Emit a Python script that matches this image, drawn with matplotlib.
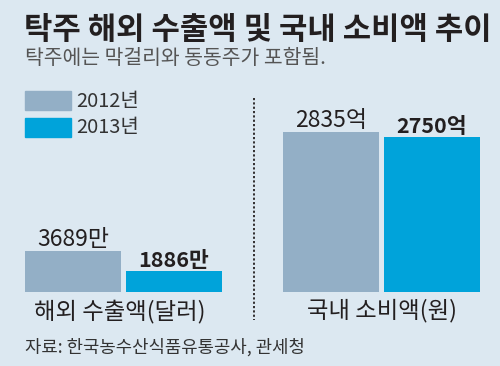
import matplotlib
matplotlib.use("Agg")
import matplotlib.pyplot as plt

plt.rcParams["font.family"] = ["Noto Sans CJK KR", "DejaVu Sans"]

# 데이터
years = ["2012년", "2013년"]
export_vals = [3689, 1886]          # 해외 수출액 (만 달러)
export_labels = ["3689만", "1886만"]
domestic_vals = [2835, 2750]        # 국내 소비액 (억 원)
domestic_labels = ["2835억", "2750억"]
categories = ["해외 수출액(달러)", "국내 소비액(원)"]

title = "탁주 해외 수출액 및 국내 소비액 추이"
subtitle = "탁주에는 막걸리와 동동주가 포함됨."
source = "자료: 한국농수산식품유통공사, 관세청"

bg = "#dce8f1"
colors = ["#93afc6", "#00a3da"]
W, H = 500, 366


def fx(px):
    return px / W


def fy(py):
    return 1 - py / H


fig = plt.figure(figsize=(5, 3.66), dpi=100, facecolor=bg)

fig.text(fx(24), fy(30), title, fontsize=22.2, fontweight="bold", color="#231f20",
         va="center", ha="left")
fig.text(fx(25), fy(59), subtitle, fontsize=14.7, color="#555555", va="center", ha="left")

# 범례
for i, (yr, c) in enumerate(zip(years, colors)):
    top = 91 + i * 27
    fig.patches.append(plt.Rectangle((fx(25), fy(top + 19)), fx(46), 19 / H,
                                     transform=fig.transFigure, color=c))
    fig.text(fx(76), fy(top + 10), yr, fontsize=14.4, color="#333333", va="center", ha="left")

# 막대 그래프 두 개 (축 척도가 다름)
bottom, top_px = 292, 132
h = (bottom - top_px) / H
ax1 = fig.add_axes([fx(25), fy(bottom), fx(222 - 25), h])
ax2 = fig.add_axes([fx(283), fy(bottom), fx(480 - 283), h])

for ax, vals, labels, ymax in [(ax1, export_vals, export_labels, 3689 * 160 / 41),
                               (ax2, domestic_vals, domestic_labels, 2835)]:
    ax.bar([0, 1], vals, width=0.96, color=colors)
    ax.set_xlim(-0.48, 1.48)
    ax.set_ylim(0, ymax)
    ax.axis("off")
    for i, (v, lab) in enumerate(zip(vals, labels)):
        bold = i == 1
        ax.annotate(lab, (i, v), xytext=(0, 0), textcoords="offset points",
                    ha="center", va="bottom", fontsize=15.5 if bold else 16.5,
                    color="#231f20", fontweight="bold" if bold else "normal")

fig.text(fx(120), fy(311), categories[0], fontsize=16.8, color="#231f20", va="center", ha="center")
fig.text(fx(382), fy(311), categories[1], fontsize=16.8, color="#231f20", va="center", ha="center")

# 점선 구분선
fig.add_artist(plt.Line2D([fx(254), fx(254)], [fy(98), fy(320)], transform=fig.transFigure,
                          color="#231f20", linestyle=(0, (1.2, 1.2)), linewidth=1.3))

fig.text(fx(25), fy(347), source, fontsize=12.8, color="#333333", va="center", ha="left")

fig.savefig("out.png", dpi=100, facecolor=bg)
